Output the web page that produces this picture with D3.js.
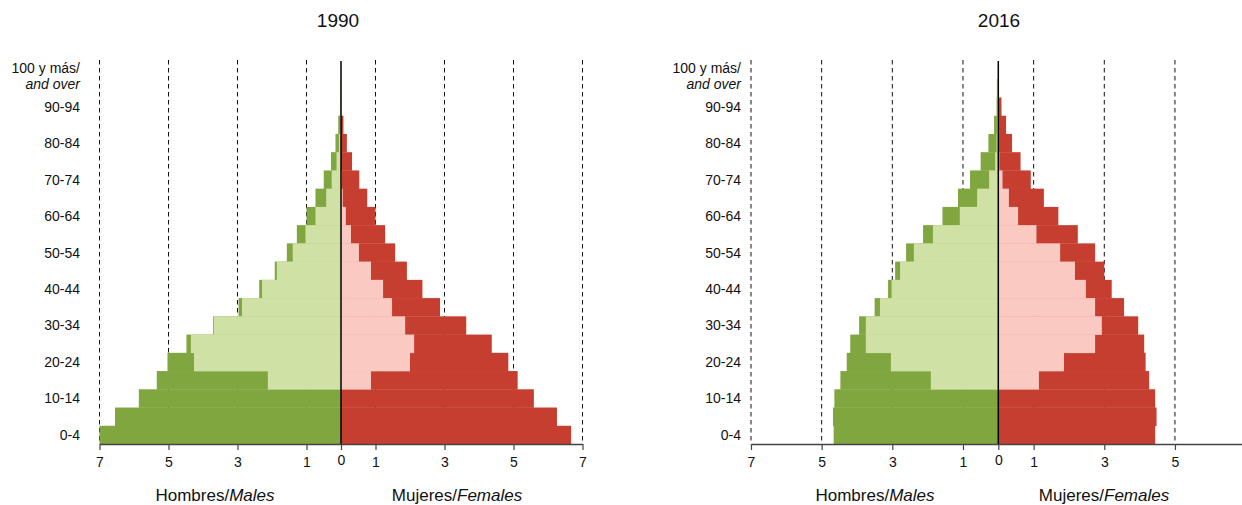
<!DOCTYPE html>
<html>
<head>
<meta charset="utf-8">
<script src="https://cdn.jsdelivr.net/npm/d3@7"></script>
<style>
  body { margin: 0; background: #fff; }
  svg { display: block; font-family: "Liberation Sans", Arial, sans-serif; }
</style>
</head>
<body>
<svg width="1242" height="505"></svg>
<script>
// age groups, bottom to top
const ageGroups = ["0-4", "5-9", "10-14", "15-19", "20-24", "25-29", "30-34", "35-39", "40-44",
  "45-49", "50-54", "55-59", "60-64", "65-69", "70-74", "75-79", "80-84", "85-89", "90-94", "95-99", "100+"];
const ageLabels = ["0-4", "10-14", "20-24", "30-34", "40-44", "50-54", "60-64", "70-74", "80-84", "90-94", "100+"];
const xTicks = [-7, -5, -3, -1, 0, 1, 3, 5, 7];
const years = ["1990", "2016"];

// percent of population, total and inner (lighter) part
const males1990 = [7.0, 6.55, 5.86, 5.34, 5.03, 4.48, 3.71, 2.97, 2.37, 1.92, 1.57, 1.28, 1.00, 0.74, 0.50, 0.29, 0.16, 0.08, 0.03, 0.02, 0];
const malesInner1990 = [0, 0, 0, 2.12, 4.26, 4.35, 3.69, 2.87, 2.29, 1.86, 1.40, 1.03, 0.74, 0.43, 0.27, 0.13, 0.06, 0.03, 0.03, 0.02, 0];
const females1990 = [6.67, 6.26, 5.59, 5.12, 4.85, 4.37, 3.63, 2.87, 2.36, 1.91, 1.57, 1.28, 1.00, 0.76, 0.53, 0.32, 0.17, 0.07, 0, 0, 0];
const femalesInner1990 = [0, 0, 0, 0.87, 2.0, 2.12, 1.86, 1.48, 1.22, 0.87, 0.52, 0.29, 0.14, 0.05, 0.02, 0, 0, 0, 0, 0, 0];

const males2016 = [4.66, 4.68, 4.64, 4.47, 4.29, 4.19, 3.94, 3.50, 3.12, 2.92, 2.61, 2.13, 1.58, 1.14, 0.80, 0.50, 0.28, 0.12, 0.05, 0.04, 0];
const malesInner2016 = [0, 0, 0, 1.91, 3.04, 3.75, 3.75, 3.35, 3.02, 2.78, 2.39, 1.85, 1.09, 0.60, 0.26, 0.09, 0.05, 0.04, 0.05, 0.04, 0];
const females2016 = [4.44, 4.48, 4.44, 4.27, 4.17, 4.13, 3.96, 3.56, 3.21, 3.0, 2.74, 2.25, 1.70, 1.29, 0.92, 0.63, 0.39, 0.22, 0.09, 0, 0];
const femalesInner2016 = [0, 0, 0, 1.15, 1.86, 2.74, 2.93, 2.74, 2.48, 2.17, 1.75, 1.08, 0.56, 0.30, 0.12, 0.03, 0, 0, 0, 0, 0];

const colors = { male: "#80a640", maleInner: "#d0e1a5", female: "#c63e2f", femaleInner: "#f9c9c2" };

const svg = d3.select("svg");
const W = 1242;
const yBottom = 444, yTop = 61;

// one pyramid per year
const panels = [
  { year: years[0], cx: 341, unit: 34.5, labelX: 80, titleX: 338, maleTitleX: 215, femaleTitleX: 457,
    m: males1990, mi: malesInner1990, f: females1990, fi: femalesInner1990 },
  { year: years[1], cx: 998.3, unit: 35.33, labelX: 741, titleX: 999, maleTitleX: 875, femaleTitleX: 1104,
    m: males2016, mi: malesInner2016, f: females2016, fi: femalesInner2016 }
];

panels.forEach(drawPanel);

function drawPanel(p) {
  const x = d3.scaleLinear().domain([-7, 7]).range([p.cx - 7 * p.unit, p.cx + 7 * p.unit]);
  const y = d3.scaleBand().domain(ageGroups).range([yBottom, yTop]);
  const g = svg.append("g");
  // the 2016 panel runs past the right edge, skip what falls outside
  const visible = xTicks.filter(d => x(d) < W);

  // dashed grid
  g.selectAll("line.grid")
    .data(visible.filter(d => d !== 0))
    .enter().append("line")
    .attr("x1", d => x(d)).attr("x2", d => x(d))
    .attr("y1", yTop - 1).attr("y2", yBottom)
    .attr("stroke", "#111")
    .attr("stroke-width", 1)
    .attr("stroke-dasharray", "4.5,3.5");

  const bars = (vals, sign, color) => {
    g.selectAll(null)
      .data(ageGroups.map((a, i) => ({ age: a, v: vals[i] })).filter(d => d.v > 0))
      .enter().append("rect")
      .attr("x", d => sign < 0 ? x(-d.v) : x(0))
      .attr("width", d => Math.abs(x(d.v) - x(0)))
      .attr("y", d => y(d.age))
      .attr("height", y.bandwidth() + 0.3)
      .attr("fill", color);
  };
  bars(p.m, -1, colors.male);
  bars(p.mi, -1, colors.maleInner);
  bars(p.f, 1, colors.female);
  bars(p.fi, 1, colors.femaleInner);

  // center line
  g.append("line")
    .attr("x1", x(0)).attr("x2", x(0))
    .attr("y1", yTop).attr("y2", yBottom)
    .attr("stroke", "#000").attr("stroke-width", 1.5);

  // bottom axis
  const axis = d3.axisBottom(x)
    .tickValues(visible)
    .tickFormat(d => Math.abs(d))
    .tickSize(6)
    .tickSizeOuter(0)
    .tickPadding(7);
  const ax = g.append("g").attr("transform", `translate(0,${yBottom})`).call(axis);
  ax.select(".domain").attr("stroke", "#444").attr("stroke-width", 1.5);
  ax.selectAll(".tick line").attr("stroke", "#444").attr("stroke-width", 1.2);
  ax.selectAll(".tick text").attr("font-size", 14).attr("fill", "#111")
    .attr("font-family", "Liberation Sans, Arial, sans-serif");
  ax.selectAll(".tick").filter(d => d === 0).select("text").attr("dy", "0.6em");

  // age labels
  ageLabels.forEach(a => {
    const cy = y(a) + y.bandwidth() / 2;
    if (a === "100+") {
      const t = g.append("text").attr("x", p.labelX).attr("text-anchor", "end")
        .attr("font-size", 14).attr("fill", "#111");
      t.append("tspan").attr("x", p.labelX).attr("y", cy + 3).text("100 y más/");
      t.append("tspan").attr("x", p.labelX).attr("y", cy + 19).attr("font-style", "italic").text("and over");
    } else {
      g.append("text").attr("x", p.labelX).attr("y", cy + 5)
        .attr("text-anchor", "end").attr("font-size", 14).attr("fill", "#111").text(a);
    }
  });

  // year title
  g.append("text").attr("x", p.titleX).attr("y", 27)
    .attr("text-anchor", "middle").attr("font-size", 19).attr("fill", "#111").text(p.year);

  // sex titles
  const t1 = g.append("text").attr("x", p.maleTitleX).attr("y", 501)
    .attr("text-anchor", "middle").attr("font-size", 17).attr("fill", "#111");
  t1.append("tspan").text("Hombres/");
  t1.append("tspan").attr("font-style", "italic").text("Males");
  const t2 = g.append("text").attr("x", p.femaleTitleX).attr("y", 501)
    .attr("text-anchor", "middle").attr("font-size", 17).attr("fill", "#111");
  t2.append("tspan").text("Mujeres/");
  t2.append("tspan").attr("font-style", "italic").text("Females");
}
</script>
</body>
</html>
